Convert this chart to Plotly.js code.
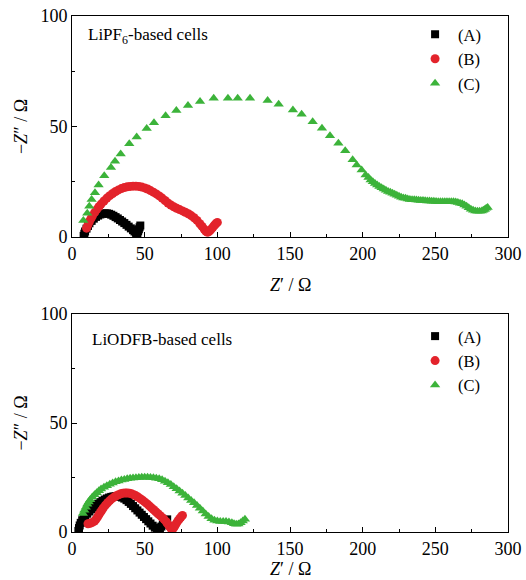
<!DOCTYPE html>
<html>
<head>
<meta charset="utf-8">
<script src="https://cdn.plot.ly/plotly-3.0.1.min.js"></script>
<style>html,body{margin:0;padding:0;background:#fff;}#chart{width:526px;height:580px;}</style>
</head>
<body>
<div id="chart"></div>
<script>
// ---- Top panel: LiPF6-based cells ----
const topA_x = [8,8.5,9,10,11,12,13.5,15,16.5,18,19.5,21,22.5,24,25.5,27,28.5,30,31.5,33,34.5,36,37.5,39,40.5,42,43,44,44.5,45,45.5,46,46.5,47];
const topA_y = [0.5,1.5,2.5,3.8,5,6.2,7.3,8.3,9.1,9.7,10.2,10.5,10.7,10.7,10.5,10.1,9.6,9,8.4,7.7,7,6.3,5.5,4.7,3.9,3.1,2.5,1.9,1.6,1.8,2.6,3.5,4.4,5.2];

const topB_x = [10,11,12,13,14,15.5,17,18.5,20,22,24,26,28,30,32,34,36,38,40,42,44,46,48,50,52,54,56,58,60,62,64,66,68,70,72,74,76,78,80,82,84,86,88,89.5,91,92,93,94,95,96,97,98,99,100];
const topB_y = [4,5.5,7,8.3,9.5,11,12.4,13.7,14.9,16.3,17.6,18.7,19.7,20.6,21.3,21.9,22.4,22.7,22.9,23,23,22.9,22.6,22.2,21.7,21,20.3,19.5,18.6,17.6,16.5,15.4,14.5,13.7,13,12.4,11.8,11.2,10.5,9.7,8.7,7.5,6,4.8,3.5,2.7,2.2,2.3,2.9,3.7,4.5,5.3,6,6.6];

const topC_x = [7.8,10.5,11.9,13.5,15.8,18.3,22.2,26.8,29.6,33.5,39.4,44.5,51.4,56.4,64.4,71.8,79.8,88.1,97.5,107.3,114,122.5,134.6,142.2,152,158,165.6,172,177.5,183.3,188,193.1,195.9,199.3,202,
  204,205.5,207,208.5,210,211.5,213,214.5,216,217.5,219,220.5,222,223.5,225,226.5,228,229.5,231,232.5,234,235.5,237,238.5,240,241.5,243,244.5,246,247.5,249,250.5,252,253.5,255,256.5,258,259.5,261,262.5,264,265.5,267,268.5,270,271.5,273,274.5,276,277.5,279,280.5,282,283,284,285,286];
const topC_y = [7.5,10.8,13.9,17,20,23.5,27.7,31.5,34.3,37.6,42.2,45.3,49.1,51.7,54.9,57.2,59.5,61.3,62.8,62.8,62.8,62.8,61.8,60.1,57.5,55.6,52.2,49.2,45.8,42.4,39,34.9,32.6,30.3,28.1,
  26.9,25.8,25,24.2,23.5,22.9,22.3,21.7,21.1,20.6,20.2,19.8,19.3,18.9,18.4,18,17.7,17.5,17.2,17,16.9,16.8,16.7,16.6,16.5,16.5,16.4,16.3,16.3,16.2,16.2,16.1,16,16,16,15.9,16,15.9,15.9,15.9,15.8,15.6,15.3,15,14.5,13.9,13.2,12.6,12.1,11.8,11.7,11.7,11.8,12.1,12.5,13,13.3];

// ---- Bottom panel: LiODFB-based cells ----
const botA_x = [4.4,4.8,5.3,6,7,8,9.2,10.5,12,13.5,15,16.5,18,19.5,21,22.5,24,25.5,27,28.5,30,31.5,33,34.5,36,37.5,39,40.5,42,43.5,45,46.5,48,49.5,51,52.5,54,55.5,57,58.5,59.5,60.5,61.5,62.5,63.5,64.5,65.5];
const botA_y = [0.5,1.8,3,4.2,5.4,6.4,7.4,8.4,9.4,10.4,11.3,12.2,13,13.7,14.3,14.9,15.4,15.8,16.1,16.3,16.4,16.4,16.2,15.8,15.3,14.6,13.8,12.9,11.9,10.9,9.9,8.9,7.9,6.9,5.9,4.9,3.9,2.9,2,1.3,1.1,1.6,2.5,3.4,4.3,5.1,5.8];

const botB_x = [11,12.5,14,15.5,16.5,17.5,18.5,19.5,20.5,21.5,23,24.5,26,27.5,29,30.5,32,33.5,35,36.5,38,39.5,41,42.5,44,45.5,47,48.5,50,51.5,53,54.5,56,57.5,59,60.5,62,63.5,65,66,67,68,68.8,69.6,70.4,71.2,72,73,74,75,76];
const botB_y = [3.8,4,4.4,5,5.8,6.8,7.9,9,10,11,12.3,13.4,14.4,15.3,16,16.6,17.1,17.5,17.8,17.9,17.9,17.8,17.5,17.1,16.6,16,15.3,14.6,13.8,13,12.1,11.2,10.3,9.4,8.5,7.6,6.7,5.7,4.6,3.6,2.6,1.7,1.3,1.6,2.4,3.3,4.2,5.2,6.1,6.9,7.6];

const botC_x = [7.5,8.5,9.5,10.5,11.5,12.5,14,15.5,17,18.5,20,22,24,26,28,30,32,34,36,38,40,42,44,46,48,50,52,54,56,58,60,62,64,66,68,70,72,74,76,78,80,82,84,86,88,90,92,94,96,98,100,102,104,106,108,110,111.5,113,114.5,116,117.5,119];
const botC_y = [8.5,10,11.4,12.7,13.8,14.8,16,17.1,18,18.9,19.7,20.5,21.2,21.9,22.5,23,23.4,23.8,24.1,24.4,24.6,24.8,24.9,25,25.1,25.1,25.1,25,24.9,24.7,24.4,24,23.3,22.6,21.8,20.8,19.8,18.8,17.8,16.7,15.6,14.5,13.4,12.2,10.9,9.6,8.3,7.1,6.1,5.4,5,4.8,4.8,4.8,4.6,4.2,3.8,3.6,3.7,4.2,5,5.8];

const seriesNames = ['(A)','(B)','(C)'];
const colors = ['#000000','#e3232b','#3cb33a'];
const symbols = ['square','circle','triangle-up'];
const sizes = [8,9,9];
const panelLabels = ['LiPF<sub>6</sub>-based cells','LiODFB-based cells'];
const xTitle = '<i>Z</i>′ / Ω';
const yTitle = '−<i>Z</i>″ / Ω';

const panels = [
  {xs:[topA_x,topB_x,topC_x], ys:[topA_y,topB_y,topC_y], xa:'x', ya:'y', legend:'legend'},
  {xs:[botA_x,botB_x,botC_x], ys:[botA_y,botB_y,botC_y], xa:'x2', ya:'y2', legend:'legend2'}
];

const traces = [];
panels.forEach(p => {
  for (let i = 0; i < 3; i++) {
    traces.push({
      type:'scatter', mode:'markers', name:seriesNames[i],
      x:p.xs[i], y:p.ys[i], xaxis:p.xa, yaxis:p.ya, legend:p.legend,
      marker:{symbol:symbols[i], color:colors[i], size:sizes[i], line:{width:0}},
      showlegend:true
    });
  }
});

const FONT = 'Liberation Serif, Times New Roman, serif';
function xaxisDef(anchor){
  return {anchor:anchor, range:[0,300], dtick:50, tick0:0, ticks:'inside', ticklen:5, tickwidth:1, tickcolor:'#000',
    minor:{ticks:'inside', dtick:25, ticklen:3, tickwidth:1, tickcolor:'#000'},
    showline:true, mirror:true, linecolor:'#000', linewidth:1, showgrid:false, zeroline:false,
    tickfont:{family:FONT, size:18, color:'#000'}};
}
function yaxisDef(anchor, domain){
  return {anchor:anchor, domain:domain, range:[0,100], dtick:50, tick0:0, ticks:'inside', ticklen:5, tickwidth:1, tickcolor:'#000',
    minor:{ticks:'inside', dtick:25, ticklen:3, tickwidth:1, tickcolor:'#000'},
    showline:true, mirror:true, linecolor:'#000', linewidth:1, showgrid:false, zeroline:false,
    tickfont:{family:FONT, size:18, color:'#000'},
    title:{text:yTitle, font:{family:FONT, size:18, color:'#000'}, standoff:8}};
}
const legendDef = (y) => ({x:0.78, y:y, xanchor:'left', yanchor:'top', bgcolor:'rgba(0,0,0,0)', borderwidth:0,
  font:{family:FONT, size:16.5, color:'#000'}, itemsizing:'trace', itemwidth:36, tracegroupgap:0});

const titleFont = {family:FONT, size:18, color:'#000'};
const layout = {
  width:526, height:580,
  margin:{l:72, r:18, t:16, b:48},
  paper_bgcolor:'#fff', plot_bgcolor:'#fff',
  font:{family:FONT, color:'#000'},
  xaxis:xaxisDef('y'),
  yaxis:yaxisDef('x',[0.5717,1]),
  xaxis2:xaxisDef('y2'),
  yaxis2:yaxisDef('x2',[0,0.4225]),
  legend:legendDef(0.998),
  legend2:legendDef(0.413),
  annotations:[
    {xref:'paper', yref:'paper', x:0.032, y:0.961, xanchor:'left', yanchor:'middle', showarrow:false, text:panelLabels[0], font:{family:FONT, size:17, color:'#000'}},
    {xref:'paper', yref:'paper', x:0.041, y:0.374, xanchor:'left', yanchor:'middle', showarrow:false, text:panelLabels[1], font:{family:FONT, size:17, color:'#000'}},
    {xref:'paper', yref:'paper', x:0.5, y:0.4787, xanchor:'center', yanchor:'middle', showarrow:false, text:xTitle, font:titleFont},
    {xref:'paper', yref:'paper', x:0.5, y:-0.0717, xanchor:'center', yanchor:'middle', showarrow:false, text:xTitle, font:titleFont}
  ]
};

Plotly.newPlot('chart', traces, layout, {staticPlot:true, displayModeBar:false});
</script>
</body>
</html>
